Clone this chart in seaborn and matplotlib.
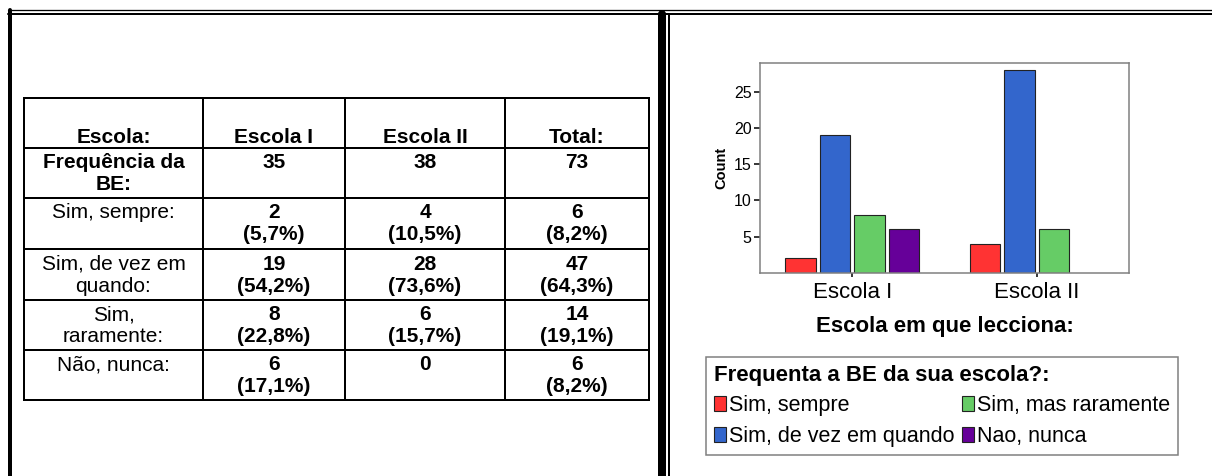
import matplotlib.pyplot as plt
import pandas as pd
import seaborn as sns

# Table values (left panel)
col_labels = ['Escola:', 'Escola I', 'Escola II', 'Total:']
row_labels = ['Frequência da\nBE:', 'Sim, sempre:', 'Sim, de vez em\nquando:',
              'Sim,\nraramente:', 'Não, nunca:']
escola1_cells = ['35', '2\n(5,7%)', '19\n(54,2%)', '8\n(22,8%)', '6\n(17,1%)']
escola2_cells = ['38', '4\n(10,5%)', '28\n(73,6%)', '6\n(15,7%)', '0']
total_cells = ['73', '6\n(8,2%)', '47\n(64,3%)', '14\n(19,1%)', '6\n(8,2%)']

# Chart values (right panel)
schools = ['Escola I', 'Escola II']
answers = ['Sim, sempre', 'Sim, de vez em quando', 'Sim, mas raramente', 'Nao, nunca']
count_escola1 = [2, 19, 8, 6]
count_escola2 = [4, 28, 6, 0]
colors = ['#FF3333', '#3366CC', '#66CC66', '#660099']
y_ticks = [5, 10, 15, 20, 25]

sns.set_theme(style='white')
plt.rcParams['font.family'] = ['Liberation Sans', 'DejaVu Sans']
plt.rcParams.update({'text.color': 'black', 'axes.labelcolor': 'black',
                     'xtick.color': 'black', 'ytick.color': 'black'})

W, H = 1212, 476
fig = plt.figure(figsize=(W / 100, H / 100), dpi=100)

# overlay axes in pixel coordinates for borders and the table
bg = fig.add_axes([0, 0, 1, 1])
bg.set_xlim(0, W)
bg.set_ylim(H, 0)
bg.axis('off')
bg.patch.set_alpha(0)

px = 0.72  # pixels -> points
bg.plot([8, W], [10, 10], color='black', lw=1.3 * px)
bg.plot([8, W], [14, 14], color='black', lw=2 * px)
bg.plot([10, 10], [9.5, H], color='black', lw=4 * px)
bg.plot([662, 662], [14, H], color='black', lw=8 * px)
bg.plot([669, 669], [14, H], color='black', lw=2 * px)

# table grid
col_x = [24, 203, 345, 505, 649]
row_y = [98, 148, 198, 249, 300, 350, 400]
for x in col_x:
    bg.plot([x, x], [row_y[0], row_y[-1]], color='black', lw=2 * px,
            solid_capstyle='projecting')
for y in row_y:
    bg.plot([col_x[0], col_x[-1]], [y, y], color='black', lw=2 * px,
            solid_capstyle='projecting')

fs = 15
for i, lab in enumerate(col_labels):
    cx = (col_x[i] + col_x[i + 1]) / 2
    bg.text(cx, 143, lab, ha='center', va='baseline', fontsize=fs, fontweight='bold')

columns = [row_labels, escola1_cells, escola2_cells, total_cells]
for r in range(len(row_labels)):
    top = row_y[r + 1]
    for c, cells in enumerate(columns):
        cx = (col_x[c] + col_x[c + 1]) / 2
        bold = c > 0 or r == 0
        bg.text(cx, top + 5.5, cells[r], ha='center', va='top', fontsize=fs,
                fontweight='bold' if bold else 'normal', linespacing=1.2)

# bar chart
df = pd.DataFrame({
    'escola': [s for s in schools for _ in answers],
    'resposta': answers * 2,
    'count': count_escola1 + count_escola2,
})

ax = fig.add_axes([760 / W, 1 - 273 / H, 369 / W, 210.3 / H])
sns.barplot(data=df, x='escola', y='count', hue='resposta', hue_order=answers,
            palette=colors, saturation=1, width=0.75, gap=0.12,
            edgecolor='#222222', linewidth=0.8, ax=ax)
for p in ax.patches:
    if p.get_height() == 0:
        p.set_linewidth(0)

ax.set_xlim(-0.5, 1.5)
ax.set_ylim(0, 29)
ax.set_yticks(y_ticks)
for s in ax.spines.values():
    s.set_color('#808080')
    s.set_linewidth(1.1)
ax.tick_params(axis='y', left=True, length=4.5, width=1.1, color='black',
               labelsize=11.5, pad=1.5)
ax.tick_params(axis='x', bottom=True, length=3, width=1.1, color='black',
               labelsize=16, pad=3.5)
ax.set_ylabel('Count', fontsize=10.5, fontweight='bold', labelpad=4)
ax.set_xlabel('Escola em que lecciona:', fontsize=16, fontweight='bold', labelpad=9)

old = ax.get_legend()
handles = old.legend_handles
labels = [t.get_text() for t in old.get_texts()]
old.remove()
for h in handles:
    h.set_edgecolor('#222222')
leg = ax.legend(handles, labels, ncol=2, loc='upper left',
                bbox_to_anchor=(706 / W, 1 - 357 / H, 472 / W, 0.0),
                bbox_transform=fig.transFigure, mode='expand', borderaxespad=0,
                title='Frequenta a BE da sua escola?:',
                title_fontproperties={'weight': 'bold', 'size': 16},
                alignment='left', fontsize=15.5, frameon=True, fancybox=False,
                edgecolor='#808080', framealpha=1, borderpad=0.36,
                handlelength=0.56, handleheight=0.68, handletextpad=0.14,
                columnspacing=0.2, labelspacing=0.45)
leg.get_frame().set_linewidth(1.1)

fig.savefig('out.png', dpi=100)
